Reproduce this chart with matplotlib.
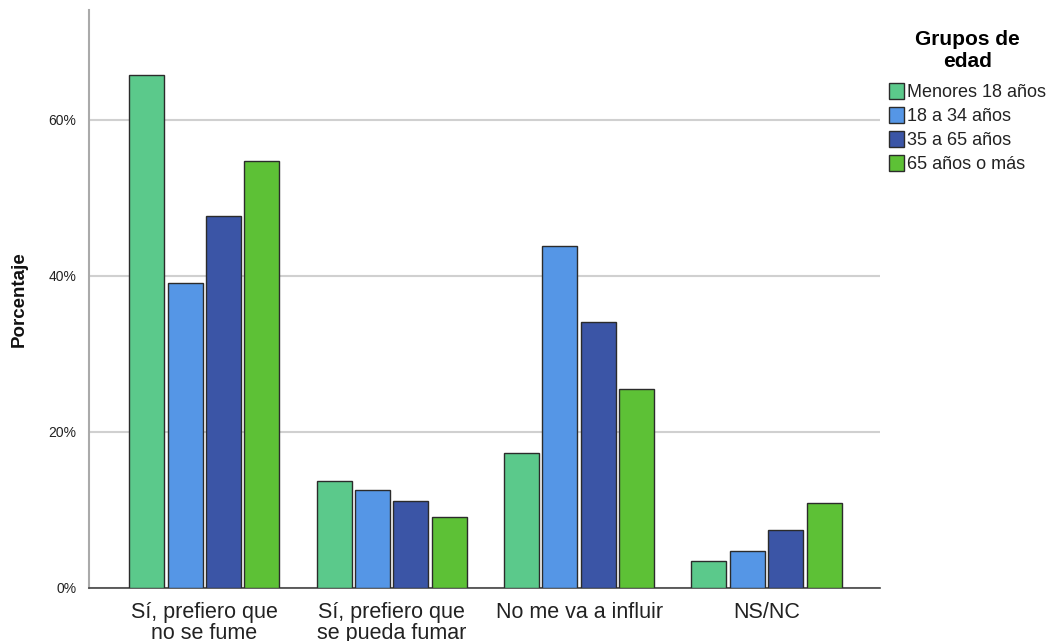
import matplotlib
matplotlib.use("Agg")
import matplotlib.pyplot as plt
import numpy as np
from matplotlib.patches import Patch

plt.rcParams['font.family'] = ['Liberation Sans', 'DejaVu Sans']

categories = ["Sí, prefiero que\nno se fume", "Sí, prefiero que\nse pueda fumar",
              "No me va a influir", "NS/NC"]
series_names = ["Menores 18 años", "18 a 34 años", "35 a 65 años", "65 años o más"]
menores_18 = [65.8, 13.7, 17.3, 3.5]
de_18_34 = [39.1, 12.6, 43.8, 4.7]
de_35_65 = [47.7, 11.2, 34.1, 7.4]
mas_65 = [54.7, 9.1, 25.5, 10.9]
yticks = [0, 20, 40, 60]
ytick_labels = ["0%", "20%", "40%", "60%"]

colors = ["#5BC98B", "#5596E6", "#3B55A6", "#5DC136"]
series = [menores_18, de_18_34, de_35_65, mas_65]

fig = plt.figure(figsize=(10.47, 6.41), dpi=100)
ax = fig.add_axes([0.085, 0.0827, 0.7555, 0.9017])

x = np.arange(len(categories))
step = 0.205
width = 0.187
for i, (vals, c) in enumerate(zip(series, colors)):
    ax.bar(x + (i - 1.5) * step, vals, width=width, color=c, edgecolor="#2b2b2b",
           linewidth=1.0, zorder=3)

ax.set_xlim(-0.615, 3.605)
ax.set_ylim(0, 74.1)
ax.set_yticks(yticks)
ax.set_yticklabels(ytick_labels, fontsize=10, color="#222222")
ax.yaxis.grid(True, color="#d0d0d0", linewidth=1.5, zorder=0)
ax.set_xticks(x)
ax.set_xticklabels(categories, fontsize=15.5, color="#222222", linespacing=1.0)
ax.tick_params(axis="both", length=0)
ax.tick_params(axis="y", pad=9)
ax.tick_params(axis="x", pad=10)

for s in ["top", "right"]:
    ax.spines[s].set_visible(False)
ax.spines["left"].set_color("#aaaaaa")
ax.spines["left"].set_linewidth(1.5)
ax.spines["bottom"].set_color("#444444")
ax.spines["bottom"].set_linewidth(1.2)

ax.set_ylabel("Porcentaje", fontsize=13.5, fontweight="bold", color="#111111")
ax.yaxis.set_label_coords(-0.077, 0.5)

handles = [Patch(facecolor=c, edgecolor="#2b2b2b", linewidth=1.0) for c in colors]
leg = fig.legend(handles, series_names, loc="upper left", bbox_to_anchor=(0.842, 0.965),
                 title="Grupos de\nedad", frameon=False, fontsize=13,
                 title_fontproperties={"weight": "bold", "size": 15},
                 handlelength=0.85, handleheight=0.95, handletextpad=0.15,
                 labelspacing=0.33, borderaxespad=0)
leg.get_title().set_multialignment("center")
leg.get_title().set_linespacing(1.2)
leg._legend_box.sep = 9
for t in leg.get_texts():
    t.set_color("#222222")

fig.savefig("out.png", dpi=100)
